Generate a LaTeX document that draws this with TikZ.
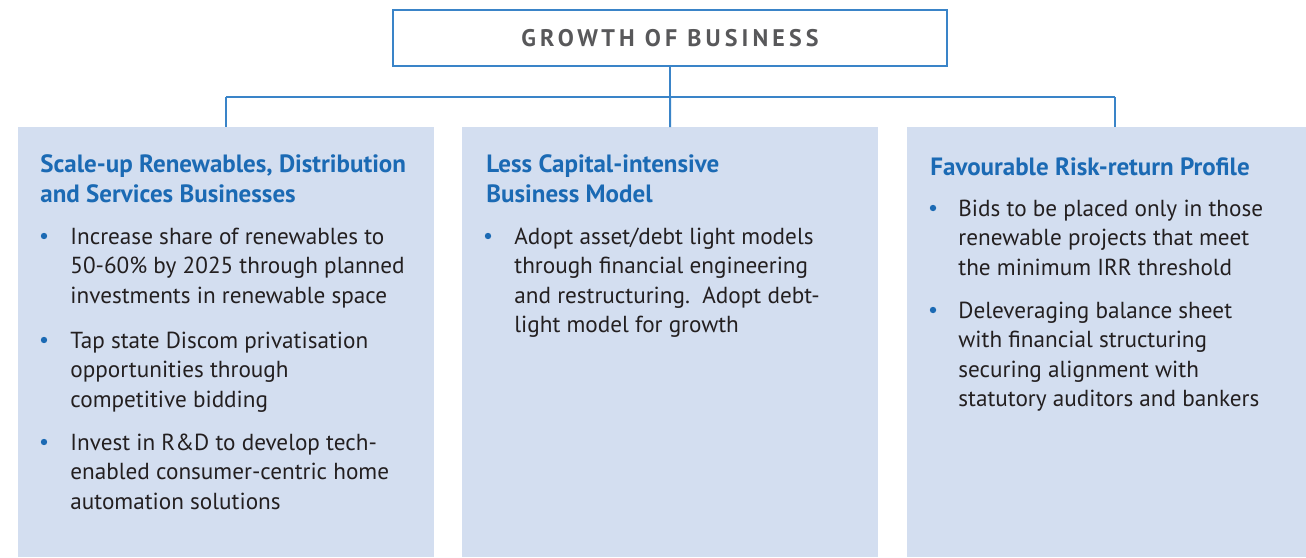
\documentclass[tikz,border=0pt]{standalone}
\usepackage{fontspec}
\setmainfont{PT Sans}
\newfontfamily\titlefont[LetterSpace=17.0]{PT Sans}
\usetikzlibrary{positioning}
\definecolor{boxfill}{HTML}{D3DEF0}
\definecolor{linkblue}{HTML}{3A84C8}
\definecolor{headblue}{HTML}{1B6AB4}
\definecolor{bodytext}{HTML}{231F20}
\definecolor{titlegray}{HTML}{58585A}

\begin{document}
\begin{tikzpicture}[
    x=0.5pt, y=-0.5pt,
    every node/.style={font=\fontsize{11.6}{14.75}\selectfont, text=bodytext},
    pillar/.style={fill=boxfill, minimum width=208pt, minimum height=215pt, inner sep=0pt, anchor=north west},
    heading/.style={anchor=north west, inner sep=0pt, align=left, text=headblue,
                    font=\fontsize{12.5}{15}\selectfont\bfseries, execute at begin node=\strut},
    point/.style={anchor=north west, inner sep=0pt, align=left, execute at begin node=\strut},
    dot/.style={circle, fill=headblue, minimum size=3.2pt, inner sep=0pt},
    link/.style={linkblue, line width=1pt}
]

% Page frame
\useasboundingbox (0,0) rectangle (1306,557);
\clip (0,0) rectangle (1306,557);

% Title
\node[draw=linkblue, line width=1pt, minimum width=277pt, minimum height=28pt, inner sep=0pt,
      font=\titlefont\bfseries\fontsize{12}{14}\selectfont, text=titlegray] (title) at (670,38) {GROWTH OF BUSINESS};

% Pillars
\node[pillar] (left) at (18,127) {};
\node[pillar] (middle) at (462,127) {};
\node[pillar] (right) at (907,127) {};

% Connectors
\coordinate (fork) at (title.south |- 0,97);
\coordinate (forkleft) at (left.north |- fork);
\coordinate (forkright) at (right.north |- fork);
\draw[link] (title) -- (fork);
\draw[link] (forkleft) -- (forkright);
\draw[link] (forkleft) -- (left);
\draw[link] (fork) -- (middle);
\draw[link] (forkright) -- (right);

% Left pillar (tops = baseline - strut height)
\node[heading] (lefthead) at (40,154) {Scale-up Renewables, Distribution\\and Services Businesses};
\node[point] (leftone) at (70,227.4) {Increase share of renewables to\\50-60\% by 2025 through planned\\investments in renewable space};
\node[point] (lefttwo) at (70,331.4) {Tap state Discom privatisation\\opportunities through\\competitive bidding};
\node[point] (leftthree) at (70,433.4) {Invest in R\&D to develop tech-\\enabled consumer-centric home\\automation solutions};

% Middle pillar
\node[heading] (middlehead) at (486,154) {Less Capital-intensive\\Business Model};
\node[point] (middleone) at (514,227.4) {Adopt asset/debt light models\\through financial engineering\\and restructuring.\ \ Adopt debt-\\light model for growth};

% Right pillar
\node[heading] (righthead) at (930,154) {Favourable Risk-return Profile};
\node[point] (rightone) at (958,199.4) {Bids to be placed only in those\\renewable projects that meet\\the minimum IRR threshold};
\node[point] (righttwo) at (958,301.4) {Deleveraging balance sheet\\with financial structuring\\securing alignment with\\statutory auditors and bankers};

% Bullets
\foreach \x/\y [count=\i] in {44/236, 44/340, 44/442, 488/236, 933/208, 933/310}
  \node[dot] (dot\i) at (\x,\y) {};

\end{tikzpicture}
\end{document}
